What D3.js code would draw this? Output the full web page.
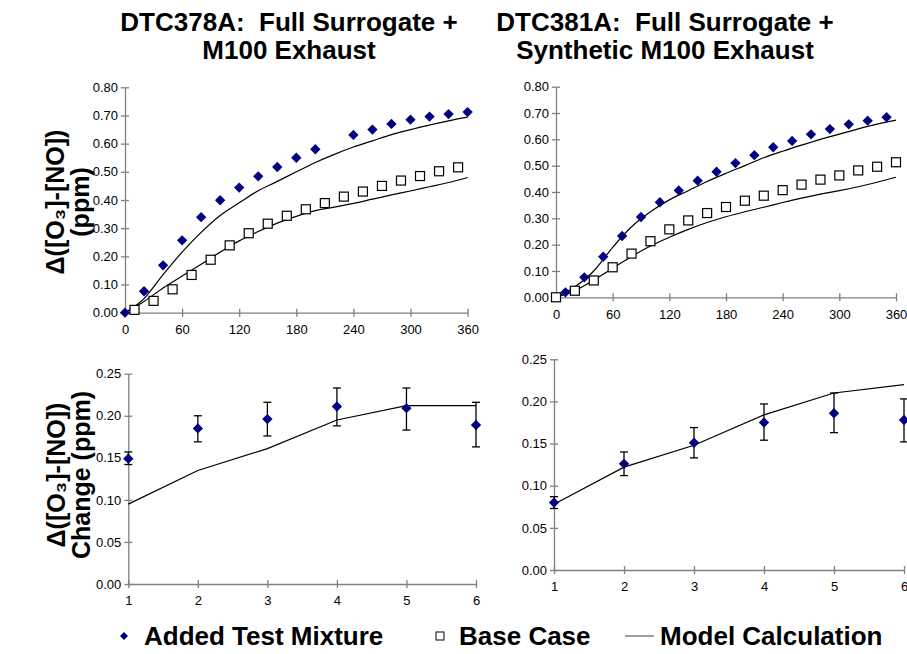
<!DOCTYPE html>
<html>
<head>
<meta charset="utf-8">
<script src="https://cdnjs.cloudflare.com/ajax/libs/d3/7.8.5/d3.min.js"></script>
<style>
	body { margin: 0; background: #fff; }
	text { font-family: "Liberation Sans", Arial, sans-serif; }
	.title, .ylabel, .legend-text { font-weight: bold; fill: #000; white-space: pre; }
	.tick text { font-size: 13px; fill: #000; }
</style>
</head>
<body>
<svg id="chart" width="907" height="654"></svg>
<script>
// Top panels: Δ([O3]-[NO]) vs time (minutes)
var addedTimes378 = [0, 20, 40, 60, 80, 100, 120, 140, 160, 180, 200, 240, 260, 280, 300, 320, 340, 360];
var added378 = [0.000, 0.076, 0.168, 0.257, 0.339, 0.399, 0.444, 0.484, 0.517, 0.550, 0.580, 0.631, 0.650, 0.670, 0.685, 0.696, 0.705, 0.712];
var baseTimes378 = [10, 30, 50, 70, 90, 110, 130, 150, 170, 190, 210, 230, 250, 270, 290, 310, 330, 350];
var base378 = [0.010, 0.042, 0.083, 0.134, 0.188, 0.239, 0.282, 0.316, 0.344, 0.367, 0.389, 0.412, 0.430, 0.450, 0.469, 0.485, 0.502, 0.516];

var addedTimes381 = [10, 30, 50, 70, 90, 110, 130, 150, 170, 190, 210, 230, 250, 270, 290, 310, 330, 350];
var added381 = [0.019, 0.076, 0.154, 0.233, 0.305, 0.361, 0.406, 0.443, 0.477, 0.510, 0.540, 0.570, 0.594, 0.619, 0.639, 0.657, 0.671, 0.684];
var baseTimes381 = [0, 20, 40, 60, 80, 100, 120, 140, 160, 180, 200, 220, 240, 260, 280, 300, 320, 340, 360];
var base381 = [0.000, 0.025, 0.064, 0.114, 0.166, 0.213, 0.258, 0.292, 0.320, 0.343, 0.367, 0.386, 0.407, 0.428, 0.447, 0.463, 0.482, 0.496, 0.513];

// model calculations, read every 20 minutes
var modelTimes = [0, 20, 40, 60, 80, 100, 120, 140, 160, 180, 200, 220, 240, 260, 280, 300, 320, 340, 360];
var modelAdded378 = [0.000, 0.050, 0.135, 0.215, 0.285, 0.345, 0.390, 0.433, 0.466, 0.500, 0.533, 0.562, 0.588, 0.610, 0.632, 0.650, 0.666, 0.681, 0.694];
var modelBase378 = [0.000, 0.040, 0.088, 0.130, 0.172, 0.215, 0.255, 0.288, 0.318, 0.342, 0.362, 0.375, 0.388, 0.403, 0.418, 0.432, 0.447, 0.462, 0.480];
var modelAdded381 = [0.000, 0.040, 0.100, 0.190, 0.268, 0.325, 0.370, 0.405, 0.440, 0.471, 0.500, 0.530, 0.555, 0.578, 0.600, 0.620, 0.640, 0.658, 0.673];
var modelBase381 = [0.000, 0.025, 0.065, 0.110, 0.155, 0.195, 0.228, 0.258, 0.284, 0.306, 0.325, 0.342, 0.360, 0.377, 0.392, 0.405, 0.420, 0.437, 0.456];

// Bottom panels: change caused by the added mixture, per hour
var hours = [1, 2, 3, 4, 5, 6];
var change378 = [0.149, 0.185, 0.196, 0.211, 0.209, 0.189];
var change378Lo = [0.142, 0.169, 0.176, 0.188, 0.183, 0.163];
var change378Hi = [0.157, 0.200, 0.216, 0.233, 0.233, 0.216];
var changeModel378 = [0.095, 0.135, 0.161, 0.195, 0.212, 0.212];

var change381 = [0.080, 0.126, 0.151, 0.175, 0.186, 0.178];
var change381Lo = [0.073, 0.112, 0.133, 0.154, 0.163, 0.152];
var change381Hi = [0.087, 0.140, 0.169, 0.197, 0.210, 0.203];
var changeModel381 = [0.078, 0.122, 0.148, 0.184, 0.210, 0.220];

var timeTicks = [0, 60, 120, 180, 240, 300, 360];
var ppmTicks = [0, 0.1, 0.2, 0.3, 0.4, 0.5, 0.6, 0.7, 0.8];
var changeTicks = [0, 0.05, 0.10, 0.15, 0.20, 0.25];

var titles = [['DTC378A:  Full Surrogate +', 'M100 Exhaust'], ['DTC381A:  Full Surrogate +', 'Synthetic M100 Exhaust']];
var yLabelsTop = ['Δ([O₃]-[NO])', '(ppm)'];
var yLabelsBottom = ['Δ([O₃]-[NO])', 'Change (ppm)'];
var legendLabels = ['Added Test Mixture', 'Base Case', 'Model Calculation'];

var navy = '#000080';
var axisColor = '#808080';
var svg = d3.select('#chart');

function zip(xs, ys) {
	return xs.map(function(x, i) { return [x, ys[i]]; });
}

// draw the axes with ticks that cross the axis line
function drawAxes(g, x, y, xTicks, yTicks, xFmt, yFmt) {
	var xa = g.append('g')
		.attr('transform', 'translate(0,' + y.range()[0] + ')')
		.call(d3.axisBottom(x).tickValues(xTicks).tickFormat(xFmt).tickSize(4).tickSizeOuter(0));
	xa.selectAll('.tick line').attr('y1', -4);
	xa.selectAll('.tick text').attr('dy', '1.1em');

	var ya = g.append('g')
		.attr('transform', 'translate(' + x.range()[0] + ',0)')
		.call(d3.axisLeft(y).tickValues(yTicks).tickFormat(yFmt).tickSize(4).tickSizeOuter(0));
	ya.selectAll('.tick line').attr('x1', 4);
	ya.selectAll('.tick text').attr('x', -7);

	g.selectAll('.domain, .tick line').attr('stroke', axisColor).attr('stroke-width', 1.3);
}

function diamonds(g, pts, x, y, size) {
	g.selectAll(null)
		.data(pts)
		.enter()
		.append('path')
		.attr('d', d3.symbol().type(d3.symbolDiamond2).size(size))
		.attr('transform', function(d) { return 'translate(' + x(d[0]) + ',' + y(d[1]) + ')'; })
		.attr('fill', navy);
}

function squares(g, pts, x, y) {
	g.selectAll(null)
		.data(pts)
		.enter()
		.append('rect')
		.attr('x', function(d) { return x(d[0]) - 4.5; })
		.attr('y', function(d) { return y(d[1]) - 4.5; })
		.attr('width', 9)
		.attr('height', 9)
		.attr('fill', '#fff')
		.attr('stroke', '#000')
		.attr('stroke-width', 1.2);
}

function modelLine(g, pts, x, y, curve) {
	g.append('path')
		.datum(pts)
		.attr('fill', 'none')
		.attr('stroke', '#000')
		.attr('stroke-width', 1.2)
		.attr('d', d3.line()
			.x(function(d) { return x(d[0]); })
			.y(function(d) { return y(d[1]); })
			.curve(curve));
}

// top panel
function timePanel(box, added, addedT, base, baseT, modelA, modelB) {
	var x = d3.scaleLinear().domain([0, 360]).range([box.left, box.right]);
	var y = d3.scaleLinear().domain([0, 0.8]).range([box.bottom, box.top]);
	var g = svg.append('g');
	drawAxes(g, x, y, timeTicks, ppmTicks, d3.format('d'), d3.format('.2f'));
	modelLine(g, zip(modelTimes, modelA), x, y, d3.curveMonotoneX);
	modelLine(g, zip(modelTimes, modelB), x, y, d3.curveMonotoneX);
	squares(g, zip(baseT, base), x, y);
	diamonds(g, zip(addedT, added), x, y, 68);
}

// bottom panel with error bars
function changePanel(box, vals, lo, hi, model) {
	var x = d3.scaleLinear().domain([1, 6]).range([box.left, box.right]);
	var y = d3.scaleLinear().domain([0, 0.25]).range([box.bottom, box.top]);
	var g = svg.append('g');
	drawAxes(g, x, y, hours, changeTicks, d3.format('d'), d3.format('.2f'));
	modelLine(g, zip(hours, model), x, y, d3.curveLinear);

	var bars = g.selectAll(null)
		.data(hours)
		.enter()
		.append('g')
		.attr('stroke', '#000')
		.attr('stroke-width', 1.3);
	bars.append('line')
		.attr('x1', function(d) { return x(d); })
		.attr('x2', function(d) { return x(d); })
		.attr('y1', function(d, i) { return y(lo[i]); })
		.attr('y2', function(d, i) { return y(hi[i]); });
	[lo, hi].forEach(function(arr) {
		bars.append('line')
			.attr('x1', function(d) { return x(d) - 4; })
			.attr('x2', function(d) { return x(d) + 4; })
			.attr('y1', function(d, i) { return y(arr[i]); })
			.attr('y2', function(d, i) { return y(arr[i]); });
	});
	diamonds(g, zip(hours, vals), x, y, 68);
}

timePanel({ left: 125, right: 467.6, top: 87.3, bottom: 312.7 }, added378, addedTimes378, base378, baseTimes378, modelAdded378, modelBase378);
timePanel({ left: 556, right: 896, top: 86.7, bottom: 297.3 }, added381, addedTimes381, base381, baseTimes381, modelAdded381, modelBase381);
changePanel({ left: 128.3, right: 476, top: 373.7, bottom: 584 }, change378, change378Lo, change378Hi, changeModel378);
changePanel({ left: 554, right: 904, top: 359.3, bottom: 570 }, change381, change381Lo, change381Hi, changeModel381);

// titles
var titleX = [289, 665];
titles.forEach(function(lines, k) {
	lines.forEach(function(s, j) {
		svg.append('text')
			.attr('class', 'title')
			.attr('x', titleX[k])
			.attr('y', 31 + j * 28)
			.attr('text-anchor', 'middle')
			.style('font-size', '26px')
			.text(s);
	});
});

// rotated y labels
function yLabel(lines, cy, x0) {
	lines.forEach(function(s, j) {
		svg.append('text')
			.attr('class', 'ylabel')
			.attr('transform', 'translate(' + (x0 + j * 25) + ',' + cy + ') rotate(-90)')
			.attr('text-anchor', 'middle')
			.style('font-size', '25px')
			.text(s);
	});
}
yLabel(yLabelsTop, 202, 64);
yLabel(yLabelsBottom, 475, 65);

// legend
var legY = 636;
var leg = svg.append('g');
leg.append('path')
	.attr('d', d3.symbol().type(d3.symbolDiamond2).size(40))
	.attr('transform', 'translate(124,' + legY + ')')
	.attr('fill', navy);
leg.append('rect')
	.attr('x', 436).attr('y', legY - 4).attr('width', 8).attr('height', 8)
	.attr('fill', '#fff').attr('stroke', '#000');
leg.append('line')
	.attr('x1', 625).attr('x2', 654).attr('y1', legY).attr('y2', legY)
	.attr('stroke', '#808080').attr('stroke-width', 1.5);
var legX = [144, 459, 660];
legendLabels.forEach(function(s, i) {
	leg.append('text')
		.attr('class', 'legend-text')
		.attr('x', legX[i])
		.attr('y', legY + 9)
		.style('font-size', '26px')
		.text(s);
});
</script>
</body>
</html>
